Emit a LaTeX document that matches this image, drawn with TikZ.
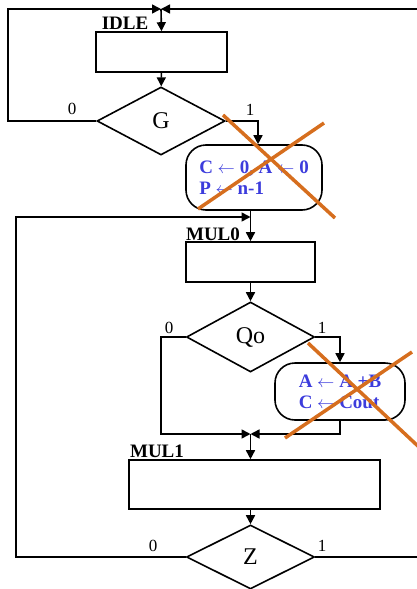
\documentclass[tikz,border=0pt]{standalone}
\usepackage{fontspec}
\setmainfont{Liberation Serif}
\usetikzlibrary{shapes.geometric,arrows.meta}
\definecolor{opblue}{RGB}{60,60,220}
\definecolor{crossorange}{RGB}{214,110,30}

\begin{document}
\begin{tikzpicture}[x=1pt,y=-1pt,line width=1.6pt,
    box/.style={draw,rectangle,inner sep=0pt},
    cond/.style={draw,diamond,inner sep=0pt,minimum width=128pt,minimum height=68pt,font=\fontsize{24}{26}\selectfont},
    act/.style={draw,rectangle,rounded corners=20pt,inner sep=0pt,text=opblue,align=left,font=\bfseries\fontsize{19}{21}\selectfont},
    flow/.style={-{Triangle[length=9pt,width=9pt]}},
    lbl/.style={inner sep=0pt,font=\fontsize{17}{19}\selectfont},
    statename/.style={inner sep=0pt,font=\bfseries\fontsize{19}{21}\selectfont},
    cross/.style={crossorange,line width=3.5pt}]
    \useasboundingbox (0,0) rectangle (416,589);

    % States and decisions
    \node[box,minimum width=131pt,minimum height=40pt] (idle) at (161.5,52) {};
    \node[cond] (g) at (161,121) {G};
    \node[act,minimum width=136pt,minimum height=65pt] (init) at (254,177.5) {C $\leftarrow$ 0, A $\leftarrow$ 0\\P $\leftarrow$ n-1};
    \node[box,minimum width=129pt,minimum height=40pt] (mul0) at (250.5,262) {};
    \node[cond,minimum height=70pt] (qo) at (250.5,337) {Qo};
    \node[act,minimum width=130pt,minimum height=57pt] (add) at (340,391.5) {A $\leftarrow$ A +B\\C $\leftarrow$ Cout};
    \node[box,minimum width=251pt,minimum height=49pt] (mul1) at (254.5,484.5) {};
    \node[cond,minimum height=64pt] (z) at (250.5,557) {Z};

    % State names
    \node[statename] (idlename) at (125,23) {IDLE};
    \node[statename] (mul0name) at (213,234) {MUL0};
    \node[statename] (mul1name) at (157,451) {MUL1};

    % Junctions
    \coordinate (top) at (161,9);
    \coordinate (j0) at (250.5,217);
    \coordinate (j1) at (250.5,434);

    % Connectors
    \draw[flow] (g.west) -- (8,121) |- (top);
    \draw[flow] (z.east) -- (424,557) |- (top);
    \draw[flow] (top) -- (idle.north);
    \draw[flow] (idle) -- (g);
    \draw[flow] (g.east) -| ([xshift=4pt]init.north);
    \draw ([xshift=-3.5pt]init.south) -- (j0);
    \draw[flow] (z.west) -- (16,557) |- (j0);
    \draw[flow] (j0) -- (mul0.north);
    \draw[flow] (mul0) -- (qo);
    \draw[flow] (qo.west) -- (161,337) |- (j1);
    \draw[flow] (qo.east) -| (add.north);
    \draw[flow] (add.south) |- (j1);
    \draw[flow] (j1) -- (j1 |- mul1.north);
    \draw[flow] (mul1.south -| z.north) -- (z.north);

    % Branch values
    \node[lbl] (g0) at (72,109) {0};
    \node[lbl] (g1) at (250,110) {1};
    \node[lbl] (qo0) at (169,328) {0};
    \node[lbl] (qo1) at (322,328) {1};
    \node[lbl] (z0) at (153,546) {0};
    \node[lbl] (z1) at (322,546) {1};

    % Crossed out
    \draw[cross] (198,209) -- (324,123);
    \draw[cross] (223,115) -- (335,218);
    \draw[cross] (285,438) -- (412,352);
    \draw[cross] (308,343) -- (420,448);
\end{tikzpicture}
\end{document}
